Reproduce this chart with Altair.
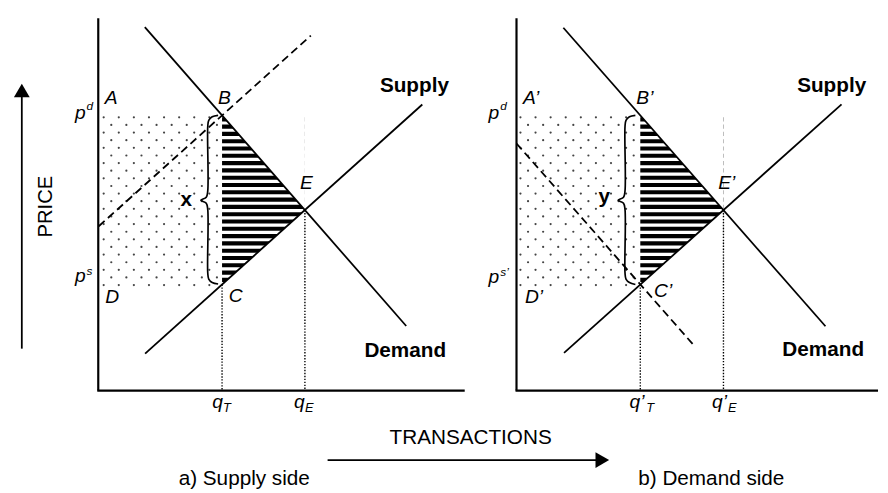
import altair as alt
import pandas as pd

W, H = 880, 485
X_DOMAIN = [8, 888]
Y_DOMAIN = [8, 493]

# ---------------- data (diagram units) ----------------
# straight segments: name, x1, y1, x2, y2, style
SEG_NAME = ["axis_a_y", "axis_a_x", "axis_b_y", "axis_b_x",
            "demand_a", "supply_a", "demand_b", "supply_b",
            "price_arrow", "trans_arrow",
            "supply_tax_a", "demand_tax_b",
            "qT_a", "qE_a", "qT_b", "qE_b"]
SEG_X1 = [99.5, 98.5, 523.5, 522.5, 146.7, 147.0, 571.0, 571.7, 22.0, 332.0,
          100.0, 523.5, 225.0, 309.0, 649.0, 733.3]
SEG_Y1 = [15.0, 392.5, 15.0, 392.5, 24.0, 355.0, 24.7, 354.3, 350.0, 463.0,
          225.9, 142.0, 285.0, 209.5, 285.0, 209.5]
SEG_X2 = [99.5, 471.0, 523.5, 890.0, 411.7, 428.0, 836.7, 853.0, 22.0, 606.0,
          315.0, 704.0, 225.0, 309.0, 649.0, 733.3]
SEG_Y2 = [392.5, 392.5, 392.5, 392.5, 327.0, 102.5, 327.3, 102.3, 94.0, 463.0,
          32.6, 347.5, 392.0, 392.0, 392.0, 392.0]
SEG_STYLE = ["axis", "axis", "axis", "axis",
             "solid", "solid", "solid", "solid",
             "solid", "solid",
             "dashed", "dashed",
             "dotted", "dotted", "dotted", "dotted"]

# horizontal hatch lines of the deadweight triangles
STRIPE_Y = [117.5, 124.9, 132.3, 139.7, 147.1, 154.5, 161.9, 169.3, 176.7, 184.1,
            191.5, 198.9, 206.3, 213.7, 221.1, 228.5, 235.9, 243.3, 250.7, 258.1,
            265.5, 272.9, 280.3]
STRIPE_PANEL_X1 = {"a": 225.0, "b": 649.0}
STRIPE_PANEL_X2 = {"a": 309.0, "b": 733.3}

# white masks outside the triangles (between B/E and E/C)
MASK_PART = ["a_up", "a_up", "a_low", "a_low", "b_up", "b_up", "b_low", "b_low"]
MASK_X = [225.0, 309.0, 225.0, 309.0, 649.0, 733.3, 649.0, 733.3]
MASK_Y = [113.5, 113.5, 285.0, 209.5, 113.5, 113.5, 285.0, 209.5]
MASK_Y2 = [113.5, 209.5, 287.0, 287.0, 113.5, 209.5, 287.0, 287.0]

# dotted (tax revenue) rectangles: staggered dot rows
DOT_ROW_Y = [115.5, 123.2, 131.0, 138.7, 146.4, 154.2, 161.9, 169.6, 177.3, 185.1,
             192.8, 200.5, 208.3, 216.0, 223.7, 231.5, 239.2, 246.9, 254.6, 262.4,
             270.1, 277.8, 285.6]
DOT_COLS_EVEN_A = [105.0, 120.3, 135.6, 150.9, 166.2, 181.5, 196.8, 212.1]
DOT_COLS_ODD_A = [112.7, 128.0, 143.3, 158.6, 173.9, 189.2, 204.5, 219.8]
DOT_COLS_EVEN_B = [527.5, 542.8, 558.1, 573.4, 588.7, 604.0, 619.3, 634.6]
DOT_COLS_ODD_B = [535.2, 550.5, 565.8, 581.1, 596.4, 611.7, 627.0, 642.3]

# curly braces
BRACE_A_X = [221.0, 215.0, 211.5, 210.5, 210.5, 209.0, 203.5, 209.0, 210.5, 210.5, 211.5, 215.0, 221.0]
BRACE_A_Y = [113.5, 115.0, 118.5, 125.0, 190.0, 196.5, 199.5, 202.5, 209.0, 273.0, 279.5, 283.0, 284.5]
BRACE_B_X = [644.0, 638.0, 634.5, 633.5, 633.5, 632.0, 626.5, 632.0, 633.5, 633.5, 634.5, 638.0, 644.0]
BRACE_B_Y = [113.5, 115.0, 118.5, 125.0, 190.0, 196.5, 199.5, 202.5, 209.0, 273.0, 279.5, 283.0, 285.0]

# arrow heads
HEAD_X = [22.0, 610.5]
HEAD_Y = [88.3, 463.0]
HEAD_SHAPE = ["triangle-up", "triangle-right"]

# labels
ITAL_TEXT = ["A", "B", "E", "C", "D", "A\u2019", "B\u2019", "E\u2019", "C\u2019", "D\u2019",
             "p", "p", "p", "p", "q", "q", "q\u2019", "q\u2019"]
ITAL_X = [106.0, 221.0, 304.0, 231.7, 106.7, 530.0, 645.0, 728.0, 663.0, 532.0,
          76.0, 76.0, 495.0, 495.0, 215.0, 298.0, 638.0, 721.7]
ITAL_Y = [102.0, 102.0, 188.0, 302.7, 304.0, 102.0, 102.0, 188.3, 298.0, 304.0,
          117.5, 282.0, 117.5, 283.5, 410.5, 410.5, 410.5, 410.5]

SUP_TEXT = ["d", "s", "d", "s\u2019"]
SUP_X = [87.5, 87.5, 507.0, 507.0]
SUP_Y = [108.0, 275.0, 108.0, 276.0]

SUB_TEXT = ["T", "E", "T", "E"]
SUB_X = [226.0, 309.0, 655.0, 738.0]
SUB_Y = [414.0, 414.0, 414.0, 414.0]

BOLD_TEXT = ["x", "y", "Supply", "Demand", "Supply", "Demand"]
BOLD_X = [183.0, 606.7, 385.0, 369.3, 808.0, 793.0]
BOLD_Y = [205.0, 202.0, 89.5, 358.0, 89.5, 357.5]

PLAIN_TEXT = ["TRANSACTIONS", "a) Supply side", "b) Demand side"]
PLAIN_X = [477.0, 247.5, 721.0]
PLAIN_Y = [447.0, 488.0, 488.0]

VERT_TEXT = ["PRICE"]
VERT_X = [53.0]
VERT_Y = [206.0]

FONT = "Liberation Sans"

# ---------------- tables ----------------
seg = pd.DataFrame({"name": SEG_NAME, "x1": SEG_X1, "y1": SEG_Y1,
                    "x2": SEG_X2, "y2": SEG_Y2, "style": SEG_STYLE})

stripe_rows = []
for p in ["a", "b"]:
    for y in STRIPE_Y:
        stripe_rows.append({"y": y, "x1": STRIPE_PANEL_X1[p], "x2": STRIPE_PANEL_X2[p]})
stripes = pd.DataFrame(stripe_rows)

mask = pd.DataFrame({"part": MASK_PART, "x": MASK_X, "y": MASK_Y, "y2": MASK_Y2})

dot_rows = []
for j, y in enumerate(DOT_ROW_Y):
    cols = (DOT_COLS_EVEN_A + DOT_COLS_EVEN_B) if j % 2 == 0 else (DOT_COLS_ODD_A + DOT_COLS_ODD_B)
    for x in cols:
        dot_rows.append({"x": x, "y": y})
dots = pd.DataFrame(dot_rows)

brace = pd.DataFrame({
    "brace": ["a"] * len(BRACE_A_X) + ["b"] * len(BRACE_B_X),
    "k": list(range(len(BRACE_A_X))) + list(range(len(BRACE_B_X))),
    "x": BRACE_A_X + BRACE_B_X,
    "y": BRACE_A_Y + BRACE_B_Y,
})

heads = pd.DataFrame({"x": HEAD_X, "y": HEAD_Y, "shape": HEAD_SHAPE})

def tdf(t, x, y):
    return pd.DataFrame({"t": t, "x": x, "y": y})

# ---------------- encodings ----------------
xs = alt.Scale(domain=X_DOMAIN, nice=False, zero=False)
ys = alt.Scale(domain=Y_DOMAIN, nice=False, zero=False, reverse=True)

def ex(f="x"):
    return alt.X(f"{f}:Q", scale=xs, axis=None)

def ey(f="y"):
    return alt.Y(f"{f}:Q", scale=ys, axis=None)

layers = []

# dots
layers.append(alt.Chart(dots).mark_circle(size=5, color="#444444", opacity=1)
              .encode(x=ex(), y=ey()))

# stripes
layers.append(alt.Chart(stripes).mark_rule(strokeWidth=4.2, color="black", strokeCap="butt")
              .encode(x=ex("x1"), x2="x2:Q", y=ey()))

# white masks
layers.append(alt.Chart(mask).mark_area(color="white", opacity=1)
              .encode(x=ex(), y=ey(), y2="y2:Q", detail="part:N"))

def seg_layer(style, width, dash=None):
    kw = dict(strokeWidth=width, color="black", strokeCap="butt")
    if dash is not None:
        kw["strokeDash"] = dash
    return (alt.Chart(seg).transform_filter(alt.datum.style == style)
            .mark_rule(**kw)
            .encode(x=ex("x1"), y=ey("y1"), x2="x2:Q", y2="y2:Q"))

layers.append(seg_layer("axis", 2.2))
layers.append(seg_layer("solid", 1.8))
layers.append(seg_layer("dashed", 1.8, [8, 4.5]))
layers.append(seg_layer("dotted", 1.4, [1.4, 1.6]))

# braces
layers.append(alt.Chart(brace).mark_line(interpolate="catmull-rom", strokeWidth=1.7, color="black")
              .encode(x=ex(), y=ey(), order="k:Q", detail="brace:N"))

# arrow heads
layers.append(alt.Chart(heads).mark_point(filled=True, size=256, color="black", opacity=1)
              .encode(x=ex(), y=ey(),
                      shape=alt.Shape("shape:N", scale=None)))

def text_layer(df, size, style="normal", weight="normal", align="left", angle=None):
    kw = dict(font=FONT, fontSize=size, fontStyle=style, fontWeight=weight,
              align=align, baseline="alphabetic", color="black")
    if angle is not None:
        kw["angle"] = angle
    return alt.Chart(df).mark_text(**kw).encode(x=ex(), y=ey(), text="t:N")

layers.append(text_layer(tdf(ITAL_TEXT, ITAL_X, ITAL_Y), 19.5, style="italic"))
layers.append(text_layer(tdf(SUP_TEXT, SUP_X, SUP_Y), 12, style="italic"))
layers.append(text_layer(tdf(SUB_TEXT, SUB_X, SUB_Y), 13, style="italic"))
layers.append(text_layer(tdf(BOLD_TEXT, BOLD_X, BOLD_Y), 21, weight="bold"))
layers.append(text_layer(tdf(PLAIN_TEXT, PLAIN_X, PLAIN_Y), 21, align="center"))
layers.append(text_layer(tdf(VERT_TEXT, VERT_X, VERT_Y), 20.5, align="center", angle=270))

chart = (alt.layer(*layers)
         .properties(width=W, height=H, padding=0, background="white")
         .configure_view(stroke=None))

chart.save("out.html", embed_options={"renderer": "svg", "actions": False})
